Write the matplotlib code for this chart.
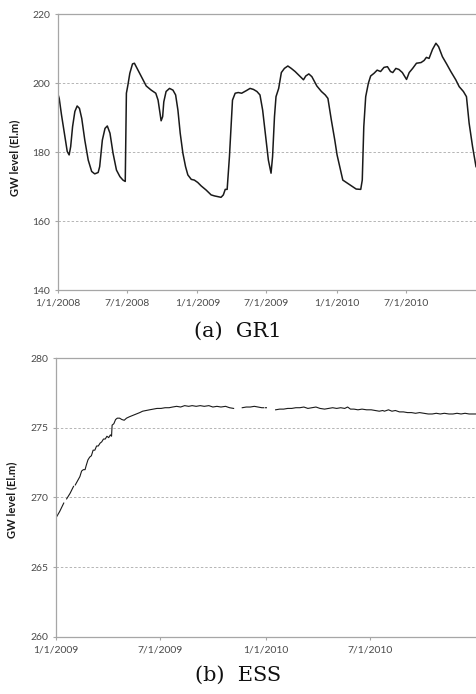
import matplotlib
matplotlib.use('Agg')
import matplotlib.pyplot as plt
import numpy as np
import pandas as pd

# (a) GR1 -- days since 1/1/2008, level (El.m)
gr1_day = [0, 4, 10, 19, 25, 30, 34, 39, 45, 51, 57, 63, 71, 80, 89, 97, 106, 110,
           117, 124, 130, 137, 145, 154, 163, 171, 177, 180, 184, 189, 196, 201, 208,
           219, 232, 245, 257, 263, 267, 271, 275, 278, 284, 293, 302, 309, 315, 321,
           328, 335, 341, 350, 358, 367, 376, 389, 402, 411, 419, 428, 434, 439, 444,
           450, 455, 458, 465, 473, 482, 495, 504, 513, 522, 530, 537, 544, 552, 559,
           563, 568, 572, 579, 586, 594, 603, 612, 622, 636, 644, 650, 658, 666, 679,
           691, 701, 708, 717, 726, 732, 741, 747, 759, 772, 782, 794, 798, 802, 807,
           814, 820, 829, 837, 846, 855, 864, 872, 878, 886, 894, 903, 914, 921, 930,
           940, 952, 960, 966, 973, 982, 991, 998, 1008, 1019, 1030, 1043, 1052, 1063,
           1071, 1078, 1087, 1096]
gr1_lvl = [197.1, 195.6, 190.8, 184.5, 180.2, 179.2, 181.6, 187.4, 191.8, 193.4, 192.7,
           189.8, 183.5, 177.7, 174.4, 173.7, 174.1, 175.8, 183.5, 186.9, 187.6, 185.5,
           179.7, 174.8, 172.9, 171.9, 171.5, 197.1, 199.5, 202.9, 205.6, 205.8, 204.3,
           201.9, 199.2, 198.0, 197.1, 195.1, 192.2, 189.1, 190.3, 194.6, 197.6, 198.5,
           198.0, 196.6, 192.2, 185.5, 179.7, 175.8, 173.4, 172.1, 171.9, 171.2, 170.2,
           169.0, 167.6, 167.3, 167.1, 166.9, 167.6, 169.2, 169.2, 178.7, 189.3, 195.1,
           197.1, 197.3, 197.1, 197.9, 198.5, 198.2, 197.6, 196.6, 192.2, 185.5, 177.7,
           173.9, 178.7, 190.3, 196.1, 198.5, 203.1, 204.3, 205.0, 204.3, 203.4, 201.9,
           201.0, 202.1, 202.7, 201.9, 199.2, 197.6, 196.6, 195.6, 189.3, 183.5, 179.2,
           174.8, 171.9, 171.0, 170.0, 169.3, 169.2, 171.9, 187.4, 196.1, 200.0, 202.1,
           202.9, 203.8, 203.4, 204.6, 204.8, 203.4, 203.1, 204.3, 204.0, 203.1, 201.1,
           203.1, 204.3, 205.8, 206.0, 206.6, 207.5, 207.2, 209.8, 211.6, 210.6, 207.7,
           205.6, 203.4, 201.0, 199.0, 197.6, 196.1, 188.4, 181.6, 175.8]

# (b) ESS -- days since 1/1/2009, level (El.m); nan = missing record
ess_day = [0, 7, 14, 16, 19, 25, 31, 32, 34, 38, 42, 45, 48, 51, 53, 56, 59, 62, 65, 68,
           71, 74, 77, 80, 83, 86, 89, 92, 95, 97, 98, 101, 104, 107, 111, 115, 119, 123,
           128, 134, 140, 146, 151, 157, 163, 170, 176, 183, 190, 197, 203, 210, 217, 224,
           231, 237, 244, 251, 258, 266, 273, 280, 287, 295, 302, 309, 316, 324, 331, 338,
           345, 352, 358, 361, 363, 364, 366, 372, 382, 389, 396, 403, 410, 417, 424, 431,
           438, 445, 452, 459, 467, 474, 481, 488, 495, 502, 507, 512, 518, 525, 532, 540,
           548, 555, 562, 568, 571, 578, 584, 590, 597, 604, 611, 618, 625, 632, 640, 647,
           654, 661, 668, 675, 683, 690, 697, 704, 711, 718, 725, 730]
ess_lvl = [268.5, 269.0, 269.6, np.nan, 269.9, 270.3, 270.8, np.nan, 270.9, 271.2, 271.5,
           271.9, 272.0, 272.0, 272.3, 272.7, 272.9, 273.0, 273.4, 273.4, 273.7, 273.7,
           273.9, 274.0, 274.2, 274.2, 274.4, 274.3, 274.5, 274.4, 275.2, 275.3, 275.6,
           275.7, 275.7, 275.6, 275.55, 275.7, 275.8, 275.9, 276.0, 276.1, 276.2, 276.25,
           276.3, 276.35, 276.4, 276.4, 276.45, 276.45, 276.5, 276.55, 276.5, 276.6,
           276.55, 276.6, 276.55, 276.6, 276.55, 276.6, 276.5, 276.55, 276.5, 276.55,
           276.45, 276.4, np.nan, 276.45, 276.5, 276.5, 276.55, 276.5, 276.45, 276.45,
           np.nan, 276.45, 276.45, np.nan, 276.3, 276.35, 276.35, 276.4, 276.4, 276.45,
           276.45, 276.5, 276.4, 276.45, 276.5, 276.4, 276.35, 276.4, 276.45, 276.4,
           276.45, 276.4, 276.5, 276.35, 276.35, 276.3, 276.35, 276.3, 276.3, 276.25,
           276.2, 276.25, 276.2, 276.3, 276.2, 276.25, 276.15, 276.15, 276.1, 276.1,
           276.05, 276.1, 276.05, 276.0, 276.0, 276.05, 276.0, 276.05, 276.0, 276.0,
           276.05, 276.0, 276.05, 276.0, 276.0, 276.0]

gr1_ticks = ['2008-01-01', '2008-07-01', '2009-01-01', '2009-07-01', '2010-01-01', '2010-07-01']
gr1_tick_labels = ['1/1/2008', '7/1/2008', '1/1/2009', '7/1/2009', '1/1/2010', '7/1/2010']
ess_ticks = ['2009-01-01', '2009-07-01', '2010-01-01', '2010-07-01']
ess_tick_labels = ['1/1/2009', '7/1/2009', '1/1/2010', '7/1/2010']

plt.rcParams['font.family'] = ['Lato', 'DejaVu Sans']

fig = plt.figure(figsize=(4.76, 6.94), dpi=100)
fig.patch.set_facecolor('white')


def style_axes(ax, ylim, yticks, ticks, tick_labels, xlim):
    ax.set_ylim(*ylim)
    ax.set_yticks(yticks)
    ax.set_xlim(pd.to_datetime(xlim[0]), pd.to_datetime(xlim[1]))
    ax.set_xticks(pd.to_datetime(ticks))
    ax.set_xticklabels(tick_labels)
    for y in yticks[1:-1]:
        ax.axhline(y, color='#b5b5b5', linewidth=0.7, linestyle=(0, (2.5, 2)), zorder=0)
    for s in ['left', 'bottom', 'top']:
        ax.spines[s].set_color('#a6a6a6')
        ax.spines[s].set_linewidth(0.9)
    ax.spines['right'].set_visible(False)
    ax.tick_params(axis='both', colors='#a6a6a6', labelcolor='#4a4a4a',
                   labelsize=7.5, length=2.5, width=0.8)
    ax.tick_params(axis='x', pad=3.5)
    ax.tick_params(axis='y', pad=3)
    ax.set_ylabel('GW level (El.m)', fontsize=8, fontweight='bold', color='#1a1a1a')


# (a) GR1
ax1 = fig.add_axes([0.1212, 0.5821, 0.8788, 0.3973])
x1 = pd.to_datetime('2008-01-01') + pd.to_timedelta(gr1_day, unit='D')
ax1.plot(x1, gr1_lvl, color='#1a1a1a', linewidth=1.1)
style_axes(ax1, (140, 220), [140, 160, 180, 200, 220], gr1_ticks, gr1_tick_labels,
           ('2008-01-01', '2011-01-01'))
ax1.yaxis.set_label_coords(-0.09, 0.48)

# (b) ESS
ax2 = fig.add_axes([0.117, 0.0826, 0.883, 0.4011])
x2 = pd.to_datetime('2009-01-01') + pd.to_timedelta(ess_day, unit='D')
ax2.plot(x2, ess_lvl, color='#1a1a1a', linewidth=0.8)
style_axes(ax2, (260, 280), [260, 265, 270, 275, 280], ess_ticks, ess_tick_labels,
           ('2009-01-01', '2011-01-01'))
ax2.yaxis.set_label_coords(-0.092, 0.49)

fig.text(0.5, 1 - 331 / 694, '(a)  GR1', ha='center', va='center',
         family='DejaVu Serif', fontsize=15, color='#111111')
fig.text(0.5, 1 - 675 / 694, '(b)  ESS', ha='center', va='center',
         family='DejaVu Serif', fontsize=15, color='#111111')

fig.savefig('out.png', dpi=100)
